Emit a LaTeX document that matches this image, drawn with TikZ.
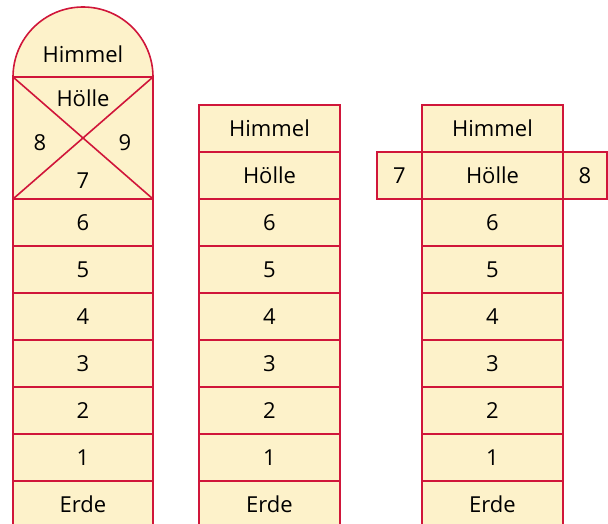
\documentclass[tikz,border=0pt]{standalone}
\usepackage{fontspec}
\setmainfont{Open Sans}
\definecolor{cellfill}{RGB}{253,242,202}
\definecolor{cellline}{RGB}{208,22,58}
\begin{document}
\begin{tikzpicture}[x=1pt,y=-1pt,
  cell/.style={draw=cellline,fill=cellfill,line width=1.6pt},
  lbl/.style={font=\fontsize{22}{22}\selectfont,text=black}]
\useasboundingbox (0,0) rectangle (608,524);
\clip (0,0) rectangle (608,524);

% ---- left column: arched top and crossed field ----
\filldraw[cell] (13,77) arc[start angle=180,end angle=360,radius=70] -- cycle;
\draw[cell] (13,77) rectangle (153,199);
\draw[cellline,line width=1.6pt] (13,77) -- (153,199) (153,77) -- (13,199);
\node[lbl] (lh) at (83,54) {Himmel};
\node[lbl] (lho) at (83,98) {Hölle};
\node[lbl] (l8) at (40,143) {8};
\node[lbl] (l9) at (125,143) {9};
\node[lbl] (l7) at (83,181) {7};
\foreach \t [count=\i from 0] in {6,5,4,3,2,1,Erde}{
  \draw[cell] (13,199+47*\i) rectangle (153,246+47*\i+\ifnum\i=6 60\else 0\fi);
  \node[lbl] (l\i) at (83,222.5+47*\i) {\t};
}

% ---- middle column ----
\foreach \t [count=\i from 0] in {Himmel,Hölle,6,5,4,3,2,1,Erde}{
  \draw[cell] (199,105+47*\i) rectangle (340,152+47*\i+\ifnum\i=8 60\else 0\fi);
  \node[lbl] (m\i) at (269.5,128.5+47*\i) {\t};
}

% ---- right column with side fields ----
\draw[cell] (377,152) rectangle (422,199);
\draw[cell] (563,152) rectangle (607,199);
\node[lbl] (rs7) at (399.5,175.5) {7};
\node[lbl] (rs8) at (585,175.5) {8};
\foreach \t [count=\i from 0] in {Himmel,Hölle,6,5,4,3,2,1,Erde}{
  \draw[cell] (422,105+47*\i) rectangle (563,152+47*\i+\ifnum\i=8 60\else 0\fi);
  \node[lbl] (r\i) at (492.5,128.5+47*\i) {\t};
}
\end{tikzpicture}
\end{document}
